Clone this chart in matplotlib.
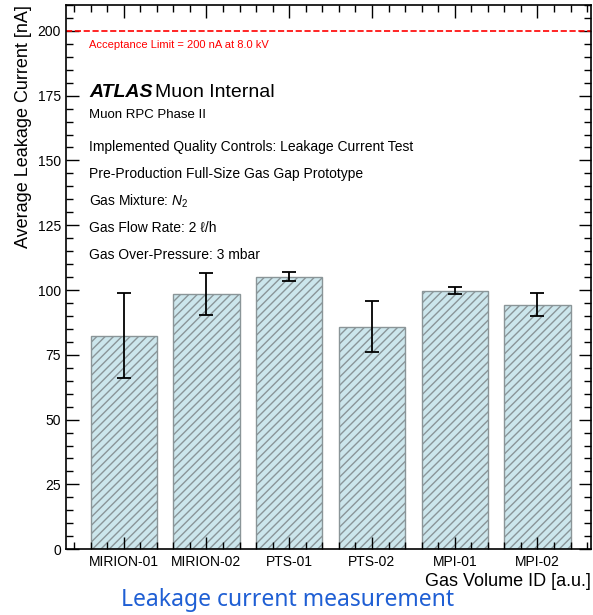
import matplotlib
matplotlib.use("Agg")
import matplotlib.pyplot as plt
from matplotlib.ticker import AutoMinorLocator, MultipleLocator

plt.rcParams["font.family"] = ["Liberation Sans", "DejaVu Sans"]
plt.rcParams["mathtext.fontset"] = "custom"
plt.rcParams["mathtext.rm"] = "Liberation Sans"
plt.rcParams["mathtext.it"] = "Liberation Sans:italic"
plt.rcParams["hatch.color"] = "#6f7f84"
plt.rcParams["hatch.linewidth"] = 1.0

# data
gas_volumes = ["MIRION-01", "MIRION-02", "PTS-01", "PTS-02", "MPI-01", "MPI-02"]
leak_current = [82.4, 98.3, 105.2, 85.9, 99.8, 94.4]
leak_error = [16.3, 8.1, 1.8, 9.8, 1.2, 4.5]
acceptance_limit = 200

fig = plt.figure(figsize=(5.93, 6.15), dpi=100)
ax = fig.add_axes([0.111, 0.107, 0.886, 0.885])

x = list(range(len(gas_volumes)))
ax.bar(x, leak_current, width=0.8, color="#cce6ec", edgecolor="#8a9598",
       linewidth=1.0, hatch="////")
ax.errorbar(x, leak_current, yerr=leak_error, fmt="none", ecolor="black",
            elinewidth=1.3, capsize=5, capthick=1.3)
ax.axhline(acceptance_limit, color="red", linestyle="--", linewidth=1.2)

ax.set_xlim(-0.7, 5.65)
ax.set_ylim(0, 210)
ax.set_xticks(x)
ax.set_xticklabels(gas_volumes, fontsize=10)
ax.yaxis.set_major_locator(MultipleLocator(25))
ax.yaxis.set_minor_locator(MultipleLocator(5))
ax.xaxis.set_minor_locator(AutoMinorLocator(5))
ax.tick_params(which="both", direction="in", top=True, right=True, labelsize=10)
ax.tick_params(which="major", length=9, width=1.0)
ax.tick_params(which="minor", length=5, width=1.0)
ax.tick_params(axis="x", pad=4)
for sp in ax.spines.values():
    sp.set_linewidth(1.2)

ax.set_ylabel("Average Leakage Current [nA]", fontsize=13, loc="top")
ax.set_xlabel("Gas Volume ID [a.u.]", fontsize=13, loc="right", labelpad=3)

ax.text(0.044, 0.926, "Acceptance Limit = 200 nA at 8.0 kV", color="red",
        fontsize=8, transform=ax.transAxes, va="center")
ax.text(0.044, 0.840, "ATLAS", fontsize=14, fontweight="bold", style="italic",
        transform=ax.transAxes, va="center")
ax.text(0.170, 0.840, "Muon Internal", fontsize=14,
        transform=ax.transAxes, va="center")
ax.text(0.044, 0.798, "Muon RPC Phase II", fontsize=9.5,
        transform=ax.transAxes, va="center")
info_lines = [
    "Implemented Quality Controls: Leakage Current Test",
    "Pre-Production Full-Size Gas Gap Prototype",
    "Gas Mixture: $N_2$",
    "Gas Flow Rate: 2 ℓ/h",
    "Gas Over-Pressure: 3 mbar",
]
for i, line in enumerate(info_lines):
    ax.text(0.044, 0.739 - i * 0.0497, line, fontsize=10,
            transform=ax.transAxes, va="center")

fig.text(0.485, 0.024, "Leakage current measurement", color="#1f5fd4",
         fontsize=16.5, ha="center", va="center", family=["Noto Sans"])

fig.savefig("out.png", dpi=100)
